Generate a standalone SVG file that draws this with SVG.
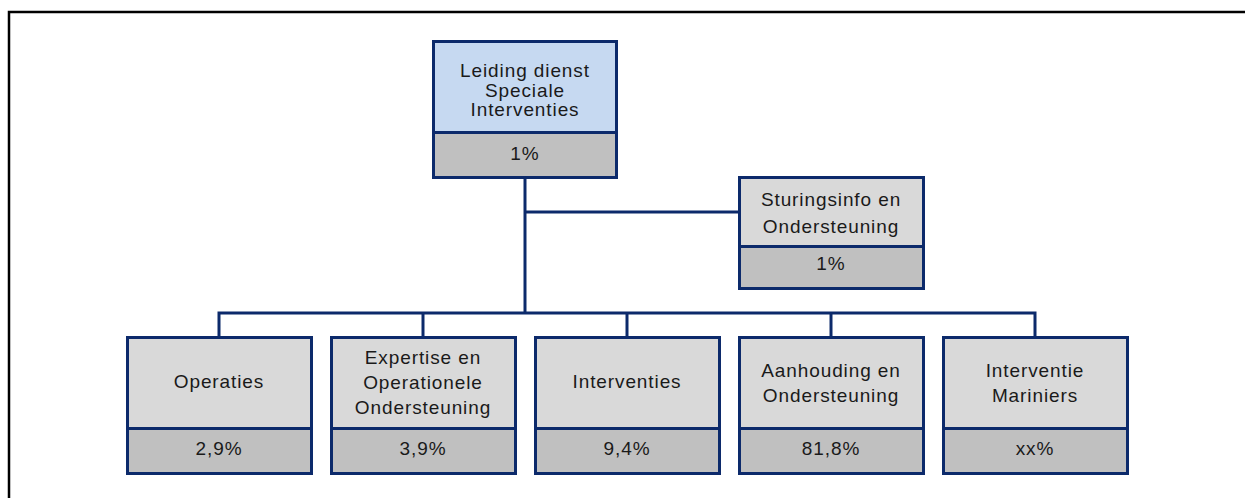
<svg xmlns="http://www.w3.org/2000/svg" width="1245" height="498" viewBox="0 0 1245 498">
<style>
.box{stroke:#0c2a6b;stroke-width:3}
.hd{fill:#d9d9d9}
.top{fill:#c6d9f1}
.pc{fill:#c0c0c0}
.div{stroke:#0c2a6b;stroke-width:3}
text{font-family:"Liberation Sans",Arial,sans-serif;font-size:19px;fill:#1a1a1a;text-anchor:middle;letter-spacing:0.9px}
.con{fill:none;stroke:#0c2a6b;stroke-width:3}
</style>
<rect width="1245" height="498" fill="#fff"/>
<path d="M9,498 V12 H1245" fill="none" stroke="#000" stroke-width="2.5"/>
<g id="connectors">
<path class="con" d="M525,178 V313"/>
<path class="con" d="M525,212 H739"/>
<path class="con" d="M219,337 V313 H1035 V337"/>
<path class="con" d="M423,313 V337"/>
<path class="con" d="M627,313 V337"/>
<path class="con" d="M831,313 V337"/>
</g>
<g id="leiding">
<rect class="box top" x="433.5" y="41.5" width="183" height="91"/>
<rect class="box pc" x="433.5" y="132.5" width="183" height="45"/>
<text x="525" y="77">Leiding dienst</text>
<text x="525" y="97">Speciale</text>
<text x="525" y="116">Interventies</text>
<text x="525" y="160">1%</text>
</g>
<g id="sturingsinfo">
<rect class="box hd" x="739.5" y="177.5" width="184" height="69"/>
<rect class="box pc" x="739.5" y="246.5" width="184" height="42"/>
<text x="831" y="206">Sturingsinfo en</text>
<text x="831" y="233">Ondersteuning</text>
<text x="831" y="270">1%</text>
</g>
<g id="operaties">
<rect class="box hd" x="127.5" y="337.5" width="184" height="91"/>
<rect class="box pc" x="127.5" y="428.5" width="184" height="45"/>
<text x="219" y="388">Operaties</text>
<text x="219" y="455">2,9%</text>
</g>
<g id="expertise">
<rect class="box hd" x="331.5" y="337.5" width="184" height="91"/>
<rect class="box pc" x="331.5" y="428.5" width="184" height="45"/>
<text x="423" y="364">Expertise en</text>
<text x="423" y="389">Operationele</text>
<text x="423" y="414">Ondersteuning</text>
<text x="423" y="455">3,9%</text>
</g>
<g id="interventies">
<rect class="box hd" x="535.5" y="337.5" width="184" height="91"/>
<rect class="box pc" x="535.5" y="428.5" width="184" height="45"/>
<text x="627" y="388">Interventies</text>
<text x="627" y="455">9,4%</text>
</g>
<g id="aanhouding">
<rect class="box hd" x="739.5" y="337.5" width="184" height="91"/>
<rect class="box pc" x="739.5" y="428.5" width="184" height="45"/>
<text x="831" y="377">Aanhouding en</text>
<text x="831" y="402">Ondersteuning</text>
<text x="831" y="455">81,8%</text>
</g>
<g id="mariniers">
<rect class="box hd" x="943.5" y="337.5" width="184" height="91"/>
<rect class="box pc" x="943.5" y="428.5" width="184" height="45"/>
<text x="1035" y="377">Interventie</text>
<text x="1035" y="402">Mariniers</text>
<text x="1035" y="455">xx%</text>
</g>
</svg>
